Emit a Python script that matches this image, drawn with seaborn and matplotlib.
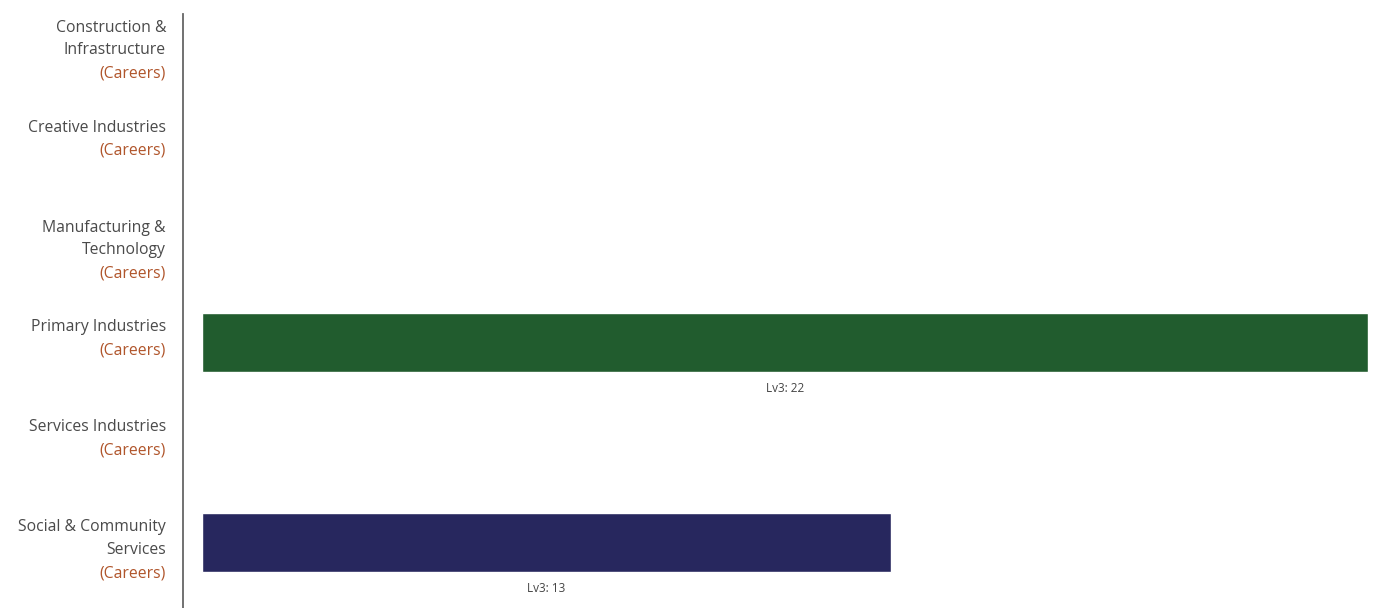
import matplotlib
matplotlib.use("Agg")
import matplotlib.pyplot as plt
import seaborn as sns
import pandas as pd
from matplotlib.transforms import blended_transform_factory

categories = ["Construction &\nInfrastructure", "Creative Industries",
              "Manufacturing &\nTechnology", "Primary Industries",
              "Services Industries", "Social & Community\nServices"]
values = [0, 0, 0, 22, 0, 13]
bar_colors = ["#215C2E", "#215C2E", "#215C2E", "#215C2E", "#215C2E", "#27275E"]
value_prefix = "Lv3: "
suffix = "(Careers)"

sns.set_style("white")
plt.rcParams['font.family'] = ['Open Sans', 'DejaVu Sans']

df = pd.DataFrame({"cat": categories, "val": values})

fig = plt.figure(figsize=(13.92, 6.08), dpi=100)
W, H = 1392, 608
left, right, top, bottom = 183, 1385, 14, 608
ax = fig.add_axes([left / W, 1 - bottom / H, (right - left) / W, (bottom - top) / H])

sns.barplot(data=df, y="cat", x="val", hue="cat", palette=bar_colors,
            orient="h", width=0.59, legend=False, ax=ax, saturation=1)

px_per_unit = (1368 - 202) / 22.0
ax.set_xlim(-(202 - left) / px_per_unit, (right - 202) / px_per_unit)
ax.set_ylim(5.655, -0.285)

for s in ["top", "right", "bottom"]:
    ax.spines[s].set_visible(False)
ax.spines["left"].set_color("#666666")
ax.spines["left"].set_linewidth(1.3)
ax.set_xticks([])
ax.set_yticks([])
ax.set_xlabel("")
ax.set_ylabel("")

trans = blended_transform_factory(ax.transAxes, ax.transData)
xlab = -17 / (right - left)
for i, cat in enumerate(categories):
    lines = cat.split("\n")
    y0 = i - 0.15
    for j, ln in enumerate(lines):
        ax.text(xlab, y0 + 0.23 * j, ln, transform=trans, ha="right", va="center",
                fontsize=11.3, color="#4a4a4a")
    ax.text(xlab, y0 + 0.23 * len(lines), suffix, transform=trans, ha="right",
            va="center", fontsize=11.3, color="#B0552B")

for i, v in enumerate(values):
    if v > 0:
        ax.text(v / 2, i + 0.46, f"{value_prefix}{v}", ha="center", va="center",
                fontsize=8.5, color="#444444")

fig.savefig("out.png", dpi=100)
